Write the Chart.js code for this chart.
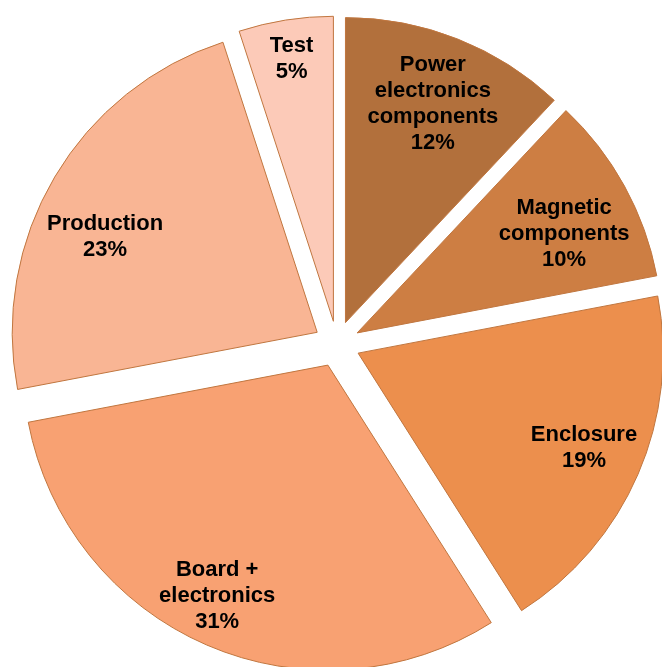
<!DOCTYPE html>
<html>
<head>
<meta charset="utf-8">
<title>Cost breakdown</title>
<script src="https://cdn.jsdelivr.net/npm/chart.js@4.4.1/dist/chart.umd.min.js"></script>
<style>
  html, body { margin: 0; padding: 0; background: #fff; }
  #wrap { width: 662px; height: 667px; }
</style>
</head>
<body>
<div id="wrap"><canvas id="costPie" width="662" height="667"></canvas></div>
<script>
// slices, clockwise from 12 o'clock
const categories = [
  ['Power', 'electronics', 'components'],
  ['Magnetic', 'components'],
  ['Enclosure'],
  ['Board +', 'electronics'],
  ['Production'],
  ['Test'],
]
const shares = [12, 10, 19, 31, 23, 5]
const fills = ['#b2703c', '#cd7e43', '#ec8f4d', '#f8a172', '#f9b594', '#fccab8']

const EXPLODE = 23   // px each slice is pulled out from the centre
// label placement per slice: distance (fraction of radius) and a small turn off the mid-angle (deg)
const labelRadius = [0.778, 0.755, 0.801, 0.834, 0.765, 0.876]
const labelTurn = [0, 2.8, -1, 2.4, -6, 0]

// Chart.js scales the built-in `offset` down and also grows small slices,
// so push the arcs out ourselves and keep one radius for all of them
const explodeSlices = {
  id: 'explodeSlices',
  afterUpdate(chart) {
    chart.getDatasetMeta(0).data.forEach(arc => {
      const mid = (arc.startAngle + arc.endAngle) / 2
      arc.x += Math.cos(mid) * EXPLODE
      arc.y += Math.sin(mid) * EXPLODE
    })
  }
}

const sliceLabels = {
  id: 'sliceLabels',
  afterDatasetsDraw(chart) {
    const { ctx } = chart
    const meta = chart.getDatasetMeta(0)
    const total = shares.reduce((a, b) => a + b, 0)
    ctx.save()
    ctx.fillStyle = '#000'
    ctx.font = 'bold 22px "Liberation Sans", Arial, sans-serif'
    ctx.textAlign = 'center'
    ctx.textBaseline = 'middle'
    meta.data.forEach((arc, i) => {
      const ang = (arc.startAngle + arc.endAngle) / 2 + labelTurn[i] * Math.PI / 180
      const r = arc.outerRadius * labelRadius[i]
      const cx = arc.x + Math.cos(ang) * r
      const cy = arc.y + Math.sin(ang) * r + 2
      const lines = [...categories[i], Math.round(shares[i] / total * 100) + '%']
      const lh = 26
      const top = cy - (lines.length - 1) * lh / 2
      lines.forEach((t, k) => ctx.fillText(t, cx, top + k * lh))
    })
    ctx.restore()
  }
}

new Chart(document.getElementById('costPie'), {
  type: 'pie',
  data: {
    labels: categories.map(c => c.join(' ')),
    datasets: [{
      data: shares,
      backgroundColor: fills,
      borderColor: '#c0763f',
      borderWidth: 1,
      radius: 305,
      clip: false,
    }]
  },
  options: {
    responsive: false,
    animation: false,
    events: [],
    layout: { padding: { left: 12, right: 0, top: 21, bottom: 0 } },
    plugins: { legend: { display: false }, tooltip: { enabled: false } },
  },
  plugins: [explodeSlices, sliceLabels]
})
</script>
</body>
</html>
